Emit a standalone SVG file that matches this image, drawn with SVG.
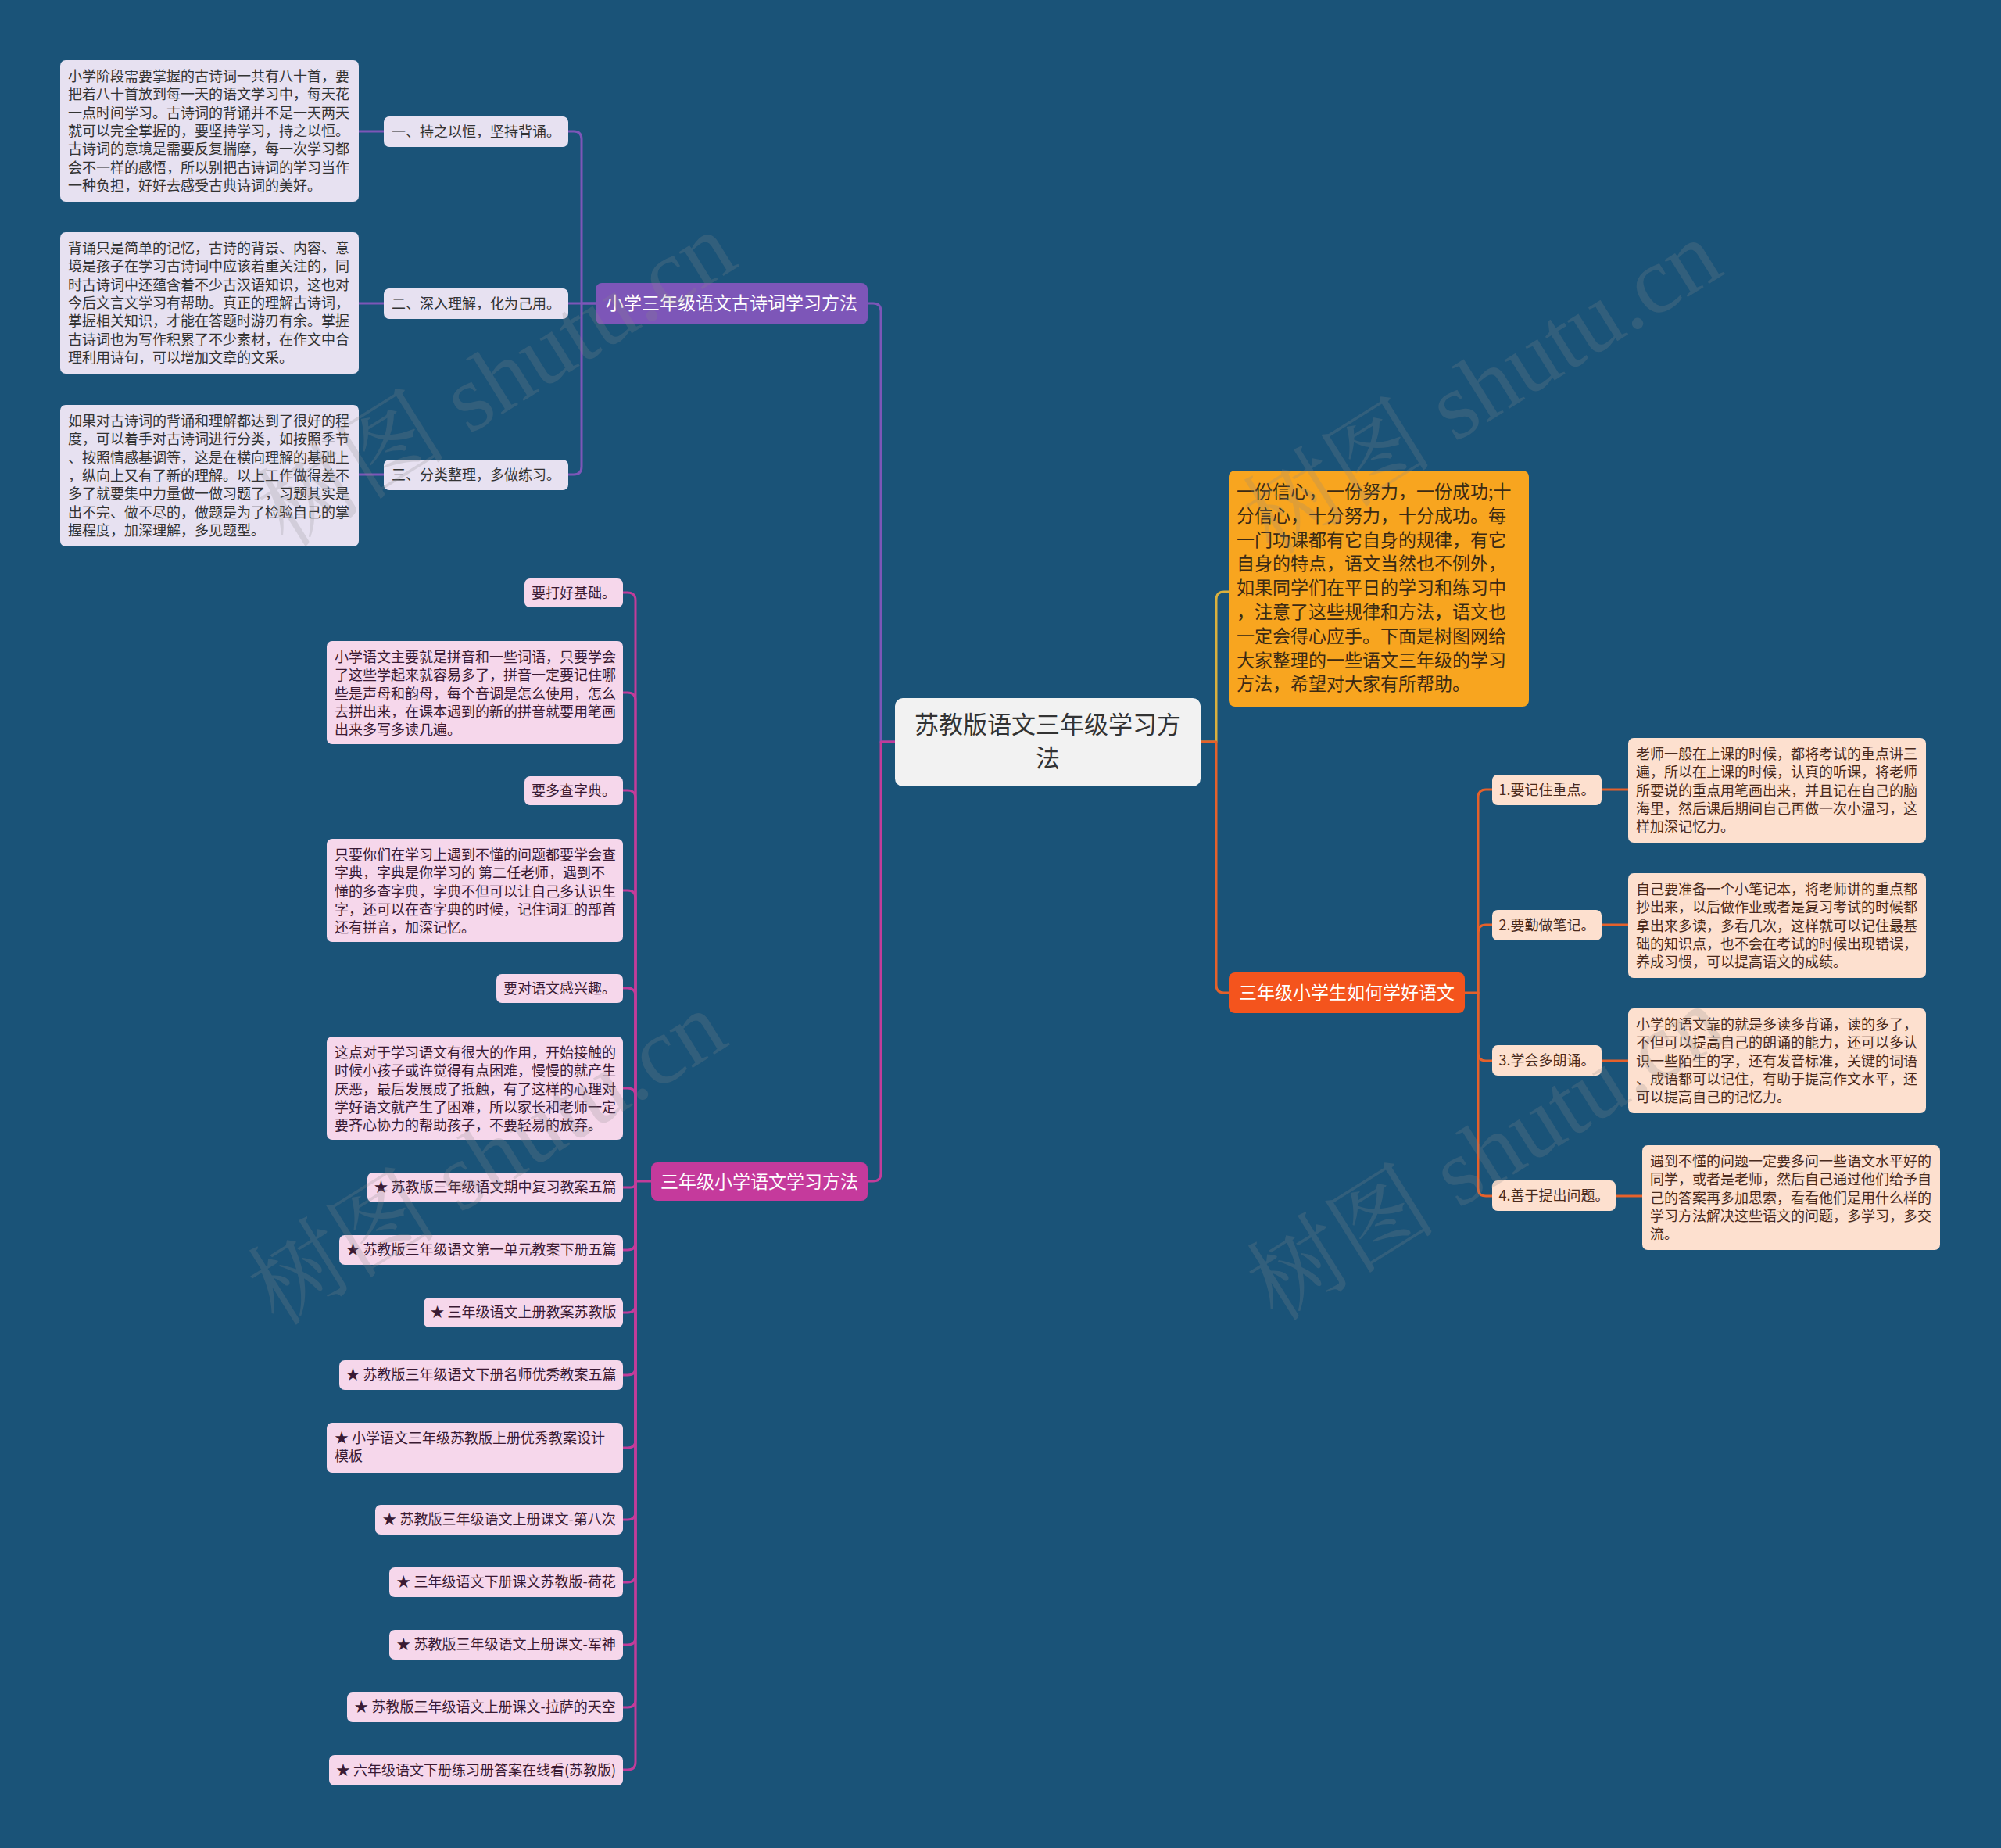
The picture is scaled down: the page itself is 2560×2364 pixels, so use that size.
<svg xmlns="http://www.w3.org/2000/svg" width="2560" height="2364" viewBox="0 0 2560 2364">
<style>
text{font-family:"Noto Sans CJK SC","Noto Sans",sans-serif;}
.c{fill:none;stroke-width:3;stroke-linecap:round;stroke-linejoin:round}
.pu{stroke:#7d56b8}.mg{stroke:#c23c9a}.gd{stroke:#d9b03e}.rd{stroke:#e5612b}
.t18{font-size:18px}
.t23{font-size:23px}
.lav{fill:#e7e1f1}.pnk{fill:#f6d7eb}.pch{fill:#fde0cf}
.dk{fill:#333333}.dkm{fill:#3a1a33}.dkb{fill:#4a2a1c}
.wm{font-family:"Liberation Serif","Noto Serif CJK SC","Noto Sans CJK SC",serif;font-size:122px;fill:#8a8a8a;opacity:0.22}
</style>
<rect x="0" y="0" width="2560" height="2364" fill="#1a5378"/>

<g id="connectors">
  <path class="c pu" d="M1145,949 H1127 V398 Q1127,388 1117,388 H1110"/>
  <path class="c mg" d="M1145,949 H1127 V1501 Q1127,1511 1117,1511 H1110"/>
  <path class="c gd" d="M1536,949 H1556 V767 Q1556,757 1566,757 H1572"/>
  <path class="c rd" d="M1536,949 H1556 V1260 Q1556,1270 1566,1270 H1572"/>
  <path class="c pu" d="M762,388 H744 V178 Q744,168 734,168 H727"/>
  <path class="c pu" d="M762,388 H727"/>
  <path class="c pu" d="M744,388 V597 Q744,607 734,607 H727"/>
  <path class="c pu" d="M491,168 H459 M491,388 H459 M491,607 H459"/>
  <path class="c mg" d="M833,1511 H813 V768 Q813,758 803,758 H797"/>
  <path class="c mg" d="M813,1511 V896 Q813,886 803,886 H797"/>
  <path class="c mg" d="M813,1511 V1021 Q813,1011 803,1011 H797"/>
  <path class="c mg" d="M813,1511 V1149 Q813,1139 803,1139 H797"/>
  <path class="c mg" d="M813,1511 V1274 Q813,1264 803,1264 H797"/>
  <path class="c mg" d="M813,1511 V1402 Q813,1392 803,1392 H797"/>
  <path class="c mg" d="M813,1511 V1513 Q813,1519 807,1519 H797"/>
  <path class="c mg" d="M813,1511 V1589 Q813,1599 803,1599 H797"/>
  <path class="c mg" d="M813,1511 V1669 Q813,1679 803,1679 H797"/>
  <path class="c mg" d="M813,1511 V1749 Q813,1759 803,1759 H797"/>
  <path class="c mg" d="M813,1511 V1842 Q813,1852 803,1852 H797"/>
  <path class="c mg" d="M813,1511 V1934 Q813,1944 803,1944 H797"/>
  <path class="c mg" d="M813,1511 V2014 Q813,2024 803,2024 H797"/>
  <path class="c mg" d="M813,1511 V2094 Q813,2104 803,2104 H797"/>
  <path class="c mg" d="M813,1511 V2174 Q813,2184 803,2184 H797"/>
  <path class="c mg" d="M813,1511 V2254 Q813,2264 803,2264 H797"/>
  <path class="c rd" d="M1874,1270 H1891 V1020 Q1891,1010 1901,1010 H1909"/>
  <path class="c rd" d="M1891,1270 V1193 Q1891,1183 1901,1183 H1909"/>
  <path class="c rd" d="M1891,1270 V1347 Q1891,1357 1901,1357 H1909"/>
  <path class="c rd" d="M1891,1270 V1520 Q1891,1530 1901,1530 H1909"/>
  <path class="c rd" d="M2049,1010 H2083 M2049,1183 H2083 M2049,1357 H2083 M2067,1530 H2101"/>
</g>

<g id="center">
  <rect x="1145" y="893" width="391" height="113" rx="10" fill="#f2f2f2"/>
  <text x="1340.5" y="938" font-size="31" text-anchor="middle" class="dk">苏教版语文三年级学习方<tspan x="1340.5" dy="43">法</tspan></text>
</g>

<g id="b1">
  <rect x="762" y="362" width="348" height="53" rx="8" fill="#7d56b8"/>
  <text x="936" y="396" class="t23" fill="#ffffff" text-anchor="middle">小学三年级语文古诗词学习方法</text>
</g>
<g id="b1-1">
  <rect x="491" y="149" width="236" height="39" rx="7" class="lav"/>
  <text x="609" y="174.5" class="t18 dk" text-anchor="middle">一、持之以恒，坚持背诵。</text>
</g>
<g id="b1-1d">
  <rect x="77" y="77" width="382" height="181" rx="7" class="lav"/>
  <text x="87" y="104" class="t18 dk">小学阶段需要掌握的古诗词一共有八十首，要<tspan x="87" dy="23.3">把着八十首放到每一天的语文学习中，每天花</tspan><tspan x="87" dy="23.3">一点时间学习。古诗词的背诵并不是一天两天</tspan><tspan x="87" dy="23.3">就可以完全掌握的，要坚持学习，持之以恒。</tspan><tspan x="87" dy="23.3">古诗词的意境是需要反复揣摩，每一次学习都</tspan><tspan x="87" dy="23.3">会不一样的感悟，所以别把古诗词的学习当作</tspan><tspan x="87" dy="23.3">一种负担，好好去感受古典诗词的美好。</tspan></text>
</g>
<g id="b1-2">
  <rect x="491" y="369" width="236" height="39" rx="7" class="lav"/>
  <text x="609" y="394.5" class="t18 dk" text-anchor="middle">二、深入理解，化为己用。</text>
</g>
<g id="b1-2d">
  <rect x="77" y="297" width="382" height="181" rx="7" class="lav"/>
  <text x="87" y="324" class="t18 dk">背诵只是简单的记忆，古诗的背景、内容、意<tspan x="87" dy="23.3">境是孩子在学习古诗词中应该着重关注的，同</tspan><tspan x="87" dy="23.3">时古诗词中还蕴含着不少古汉语知识，这也对</tspan><tspan x="87" dy="23.3">今后文言文学习有帮助。真正的理解古诗词，</tspan><tspan x="87" dy="23.3">掌握相关知识，才能在答题时游刃有余。掌握</tspan><tspan x="87" dy="23.3">古诗词也为写作积累了不少素材，在作文中合</tspan><tspan x="87" dy="23.3">理利用诗句，可以增加文章的文采。</tspan></text>
</g>
<g id="b1-3">
  <rect x="491" y="588" width="236" height="39" rx="7" class="lav"/>
  <text x="609" y="613.5" class="t18 dk" text-anchor="middle">三、分类整理，多做练习。</text>
</g>
<g id="b1-3d">
  <rect x="77" y="518" width="382" height="181" rx="7" class="lav"/>
  <text x="87" y="545" class="t18 dk">如果对古诗词的背诵和理解都达到了很好的程<tspan x="87" dy="23.3">度，可以着手对古诗词进行分类，如按照季节</tspan><tspan x="87" dy="23.3">、按照情感基调等，这是在横向理解的基础上</tspan><tspan x="87" dy="23.3">，纵向上又有了新的理解。以上工作做得差不</tspan><tspan x="87" dy="23.3">多了就要集中力量做一做习题了，习题其实是</tspan><tspan x="87" dy="23.3">出不完、做不尽的，做题是为了检验自己的掌</tspan><tspan x="87" dy="23.3">握程度，加深理解，多见题型。</tspan></text>
</g>

<g id="b2">
  <rect x="833" y="1487" width="277" height="49" rx="8" fill="#c53a9c"/>
  <text x="971.5" y="1520" class="t23" fill="#ffffff" text-anchor="middle">三年级小学语文学习方法</text>
</g>
<g id="b2-1">
  <rect x="671" y="740" width="126" height="37" rx="7" class="pnk"/>
  <text x="734" y="764.5" class="t18 dkm" text-anchor="middle">要打好基础。</text>
</g>
<g id="b2-2">
  <rect x="418" y="820" width="379" height="132" rx="7" class="pnk"/>
  <text x="428" y="847" class="t18 dkm">小学语文主要就是拼音和一些词语，只要学会<tspan x="428" dy="23.3">了这些学起来就容易多了，拼音一定要记住哪</tspan><tspan x="428" dy="23.3">些是声母和韵母，每个音调是怎么使用，怎么</tspan><tspan x="428" dy="23.3">去拼出来，在课本遇到的新的拼音就要用笔画</tspan><tspan x="428" dy="23.3">出来多写多读几遍。</tspan></text>
</g>
<g id="b2-3">
  <rect x="671" y="993" width="126" height="37" rx="7" class="pnk"/>
  <text x="734" y="1017.5" class="t18 dkm" text-anchor="middle">要多查字典。</text>
</g>
<g id="b2-4">
  <rect x="418" y="1073" width="379" height="132" rx="7" class="pnk"/>
  <text x="428" y="1100" class="t18 dkm">只要你们在学习上遇到不懂的问题都要学会查<tspan x="428" dy="23.3">字典，字典是你学习的 第二任老师，遇到不</tspan><tspan x="428" dy="23.3">懂的多查字典，字典不但可以让自己多认识生</tspan><tspan x="428" dy="23.3">字，还可以在查字典的时候，记住词汇的部首</tspan><tspan x="428" dy="23.3">还有拼音，加深记忆。</tspan></text>
</g>
<g id="b2-5">
  <rect x="635" y="1246" width="162" height="37" rx="7" class="pnk"/>
  <text x="716" y="1270.5" class="t18 dkm" text-anchor="middle">要对语文感兴趣。</text>
</g>
<g id="b2-6">
  <rect x="418" y="1326" width="379" height="132" rx="7" class="pnk"/>
  <text x="428" y="1353" class="t18 dkm">这点对于学习语文有很大的作用，开始接触的<tspan x="428" dy="23.3">时候小孩子或许觉得有点困难，慢慢的就产生</tspan><tspan x="428" dy="23.3">厌恶，最后发展成了抵触，有了这样的心理对</tspan><tspan x="428" dy="23.3">学好语文就产生了困难，所以家长和老师一定</tspan><tspan x="428" dy="23.3">要齐心协力的帮助孩子，不要轻易的放弃。</tspan></text>
</g>
<g id="b2-7">
  <rect x="470" y="1500" width="327" height="38" rx="7" class="pnk"/>
  <text x="633.5" y="1525" class="t18 dkm" text-anchor="middle">★ 苏教版三年级语文期中复习教案五篇</text>
</g>
<g id="b2-8">
  <rect x="434" y="1580" width="363" height="38" rx="7" class="pnk"/>
  <text x="615.5" y="1605" class="t18 dkm" text-anchor="middle">★ 苏教版三年级语文第一单元教案下册五篇</text>
</g>
<g id="b2-9">
  <rect x="542" y="1660" width="255" height="38" rx="7" class="pnk"/>
  <text x="669.5" y="1685" class="t18 dkm" text-anchor="middle">★ 三年级语文上册教案苏教版</text>
</g>
<g id="b2-10">
  <rect x="434" y="1740" width="363" height="38" rx="7" class="pnk"/>
  <text x="615.5" y="1765" class="t18 dkm" text-anchor="middle">★ 苏教版三年级语文下册名师优秀教案五篇</text>
</g>
<g id="b2-11">
  <rect x="418" y="1820" width="379" height="64" rx="7" class="pnk"/>
  <text x="428" y="1846" class="t18 dkm">★ 小学语文三年级苏教版上册优秀教案设计<tspan x="428" dy="23.3">模板</tspan></text>
</g>
<g id="b2-12">
  <rect x="480" y="1925" width="317" height="38" rx="7" class="pnk"/>
  <text x="638.5" y="1950" class="t18 dkm" text-anchor="middle">★ 苏教版三年级语文上册课文-第八次</text>
</g>
<g id="b2-13">
  <rect x="498" y="2005" width="299" height="38" rx="7" class="pnk"/>
  <text x="647.5" y="2030" class="t18 dkm" text-anchor="middle">★ 三年级语文下册课文苏教版-荷花</text>
</g>
<g id="b2-14">
  <rect x="498" y="2085" width="299" height="38" rx="7" class="pnk"/>
  <text x="647.5" y="2110" class="t18 dkm" text-anchor="middle">★ 苏教版三年级语文上册课文-军神</text>
</g>
<g id="b2-15">
  <rect x="444" y="2165" width="353" height="38" rx="7" class="pnk"/>
  <text x="620.5" y="2190" class="t18 dkm" text-anchor="middle">★ 苏教版三年级语文上册课文-拉萨的天空</text>
</g>
<g id="b2-16">
  <rect x="421" y="2245" width="376" height="39" rx="7" class="pnk"/>
  <text x="609" y="2270.5" class="t18 dkm" text-anchor="middle">★ 六年级语文下册练习册答案在线看(苏教版)</text>
</g>

<g id="b3">
  <rect x="1572" y="602" width="384" height="302" rx="8" fill="#f8a51f"/>
  <text x="1582" y="637" class="t23" fill="#3b2a14">一份信心，一份努力，一份成功;十<tspan x="1582" dy="30.8">分信心，十分努力，十分成功。每</tspan><tspan x="1582" dy="30.8">一门功课都有它自身的规律，有它</tspan><tspan x="1582" dy="30.8">自身的特点，语文当然也不例外，</tspan><tspan x="1582" dy="30.8">如果同学们在平日的学习和练习中</tspan><tspan x="1582" dy="30.8">，注意了这些规律和方法，语文也</tspan><tspan x="1582" dy="30.8">一定会得心应手。下面是树图网给</tspan><tspan x="1582" dy="30.8">大家整理的一些语文三年级的学习</tspan><tspan x="1582" dy="30.8">方法，希望对大家有所帮助。</tspan></text>
</g>

<g id="b4">
  <rect x="1572" y="1244" width="302" height="52" rx="8" fill="#f4541d"/>
  <text x="1723" y="1278" class="t23" fill="#ffffff" text-anchor="middle">三年级小学生如何学好语文</text>
</g>
<g id="b4-1">
  <rect x="1909" y="991" width="140" height="39" rx="7" class="pch"/>
  <text x="1979" y="1016.5" class="t18 dkb" text-anchor="middle">1.要记住重点。</text>
</g>
<g id="b4-1d">
  <rect x="2083" y="944" width="381" height="134" rx="7" class="pch"/>
  <text x="2093" y="971" class="t18 dkb">老师一般在上课的时候，都将考试的重点讲三<tspan x="2093" dy="23.3">遍，所以在上课的时候，认真的听课，将老师</tspan><tspan x="2093" dy="23.3">所要说的重点用笔画出来，并且记在自己的脑</tspan><tspan x="2093" dy="23.3">海里，然后课后期间自己再做一次小温习，这</tspan><tspan x="2093" dy="23.3">样加深记忆力。</tspan></text>
</g>
<g id="b4-2">
  <rect x="1909" y="1164" width="140" height="39" rx="7" class="pch"/>
  <text x="1979" y="1189.5" class="t18 dkb" text-anchor="middle">2.要勤做笔记。</text>
</g>
<g id="b4-2d">
  <rect x="2083" y="1117" width="381" height="134" rx="7" class="pch"/>
  <text x="2093" y="1144" class="t18 dkb">自己要准备一个小笔记本，将老师讲的重点都<tspan x="2093" dy="23.3">抄出来，以后做作业或者是复习考试的时候都</tspan><tspan x="2093" dy="23.3">拿出来多读，多看几次，这样就可以记住最基</tspan><tspan x="2093" dy="23.3">础的知识点，也不会在考试的时候出现错误，</tspan><tspan x="2093" dy="23.3">养成习惯，可以提高语文的成绩。</tspan></text>
</g>
<g id="b4-3">
  <rect x="1909" y="1337" width="140" height="39" rx="7" class="pch"/>
  <text x="1979" y="1362.5" class="t18 dkb" text-anchor="middle">3.学会多朗诵。</text>
</g>
<g id="b4-3d">
  <rect x="2083" y="1290" width="381" height="134" rx="7" class="pch"/>
  <text x="2093" y="1317" class="t18 dkb">小学的语文靠的就是多读多背诵，读的多了，<tspan x="2093" dy="23.3">不但可以提高自己的朗诵的能力，还可以多认</tspan><tspan x="2093" dy="23.3">识一些陌生的字，还有发音标准，关键的词语</tspan><tspan x="2093" dy="23.3">、成语都可以记住，有助于提高作文水平，还</tspan><tspan x="2093" dy="23.3">可以提高自己的记忆力。</tspan></text>
</g>
<g id="b4-4">
  <rect x="1909" y="1510" width="158" height="39" rx="7" class="pch"/>
  <text x="1988" y="1535.5" class="t18 dkb" text-anchor="middle">4.善于提出问题。</text>
</g>
<g id="b4-4d">
  <rect x="2101" y="1465" width="381" height="134" rx="7" class="pch"/>
  <text x="2111" y="1492" class="t18 dkb">遇到不懂的问题一定要多问一些语文水平好的<tspan x="2111" dy="23.3">同学，或者是老师，然后自己通过他们给予自</tspan><tspan x="2111" dy="23.3">己的答案再多加思索，看看他们是用什么样的</tspan><tspan x="2111" dy="23.3">学习方法解决这些语文的问题，多学习，多交</tspan><tspan x="2111" dy="23.3">流。</tspan></text>
</g>

<g id="watermarks">
  <text class="wm" transform="translate(367,702) rotate(-32)">树图 shutu.cn</text>
  <text class="wm" transform="translate(1628,712) rotate(-32)">树图 shutu.cn</text>
  <text class="wm" transform="translate(355,1698) rotate(-32)">树图 shutu.cn</text>
  <text class="wm" transform="translate(1633,1692) rotate(-32)">树图 shutu.cn</text>
</g>
</svg>
